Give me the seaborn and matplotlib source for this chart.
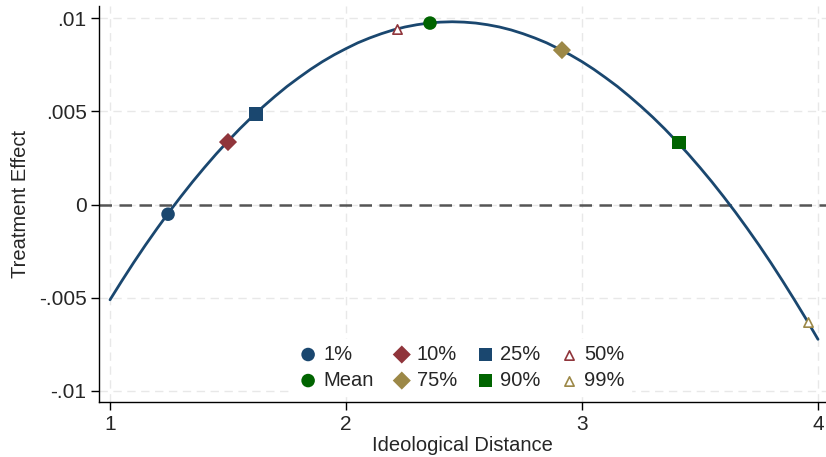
import matplotlib
matplotlib.use("Agg")
import matplotlib.pyplot as plt
import seaborn as sns
import pandas as pd

# Curve
curve_x = [1.00, 1.05, 1.10, 1.15, 1.20, 1.25, 1.30, 1.35, 1.40, 1.45, 1.50, 1.55, 1.60,
           1.65, 1.70, 1.75, 1.80, 1.85, 1.90, 1.95, 2.00, 2.05, 2.10, 2.15, 2.20, 2.25,
           2.30, 2.35, 2.40, 2.45, 2.50, 2.55, 2.60, 2.65, 2.70, 2.75, 2.80, 2.85, 2.90,
           2.95, 3.00, 3.05, 3.10, 3.15, 3.20, 3.25, 3.30, 3.35, 3.40, 3.45, 3.50, 3.55,
           3.60, 3.65, 3.70, 3.75, 3.80, 3.85, 3.90, 3.95, 4.00]
curve_y = [-0.00511, -0.00410, -0.00312, -0.00218, -0.00128, -0.00041, 0.00042, 0.00122,
           0.00198, 0.00271, 0.00340, 0.00406, 0.00468, 0.00526, 0.00581, 0.00633,
           0.00680, 0.00725, 0.00766, 0.00803, 0.00836, 0.00867, 0.00893, 0.00916,
           0.00936, 0.00952, 0.00964, 0.00973, 0.00978, 0.00980, 0.00978, 0.00973,
           0.00964, 0.00952, 0.00936, 0.00916, 0.00893, 0.00867, 0.00836, 0.00803,
           0.00766, 0.00725, 0.00680, 0.00633, 0.00581, 0.00526, 0.00468, 0.00406,
           0.00340, 0.00271, 0.00198, 0.00122, 0.00042, -0.00041, -0.00128, -0.00218,
           -0.00312, -0.00410, -0.00511, -0.00615, -0.00723]

# Marked points
point_labels = ["1%", "Mean", "10%", "75%", "25%", "90%", "50%", "99%"]
point_x = [1.246, 2.356, 1.50, 2.915, 1.619, 3.411, 2.216, 3.958]
point_y = [-0.00052, 0.00973, 0.00335, 0.00828, 0.00486, 0.00333, 0.00940, -0.00632]

y_ticks = [-0.01, -0.005, 0, 0.005, 0.01]
y_tick_labels = ["-.01", "-.005", "0", ".005", ".01"]
x_ticks = [1, 2, 3, 4]
x_tick_labels = ["1", "2", "3", "4"]

sns.set_style("white")
plt.rcParams['font.family'] = ['Liberation Sans', 'DejaVu Sans']

fig = plt.figure(figsize=(8.26, 4.57), dpi=100)
ax = fig.add_axes([99/826, 1 - 402/457, 1 - 99/826, (402 - 6)/457])

navy = "#1a476f"
maroon = "#90353b"
green = "#006400"
khaki = "#9c8847"

styles = {
    "1%":   dict(marker="o", color=navy, s=95, hollow=False),
    "Mean": dict(marker="o", color=green, s=95, hollow=False),
    "10%":  dict(marker="D", color=maroon, s=85, hollow=False),
    "75%":  dict(marker="D", color=khaki, s=85, hollow=False),
    "25%":  dict(marker="s", color=navy, s=95, hollow=False),
    "90%":  dict(marker="s", color=green, s=95, hollow=False),
    "50%":  dict(marker="^", color=maroon, s=45, hollow=True),
    "99%":  dict(marker="^", color=khaki, s=45, hollow=True),
}

# grid
for yt in y_ticks:
    ax.axhline(yt, color="#e8e8e8", lw=1.0, ls=(0, (6, 4)), zorder=0)
for xt in x_ticks:
    ax.axvline(xt, color="#e8e8e8", lw=1.0, ls=(0, (6, 4)), zorder=0)

ax.axhline(0, color="#555555", lw=1.8, ls=(0, (5, 3)), zorder=1)

df_curve = pd.DataFrame({"x": curve_x, "y": curve_y})
sns.lineplot(data=df_curve, x="x", y="y", color=navy, lw=2.0, ax=ax, zorder=2)

handles = []
for lab, px, py in zip(point_labels, point_x, point_y):
    st = styles[lab]
    if st["hollow"]:
        h = ax.scatter([px], [py], marker=st["marker"], s=st["s"], facecolors="white",
                       edgecolors=st["color"], linewidths=1.2, zorder=3, label=lab)
    else:
        h = ax.scatter([px], [py], marker=st["marker"], s=st["s"], color=st["color"],
                       edgecolors="none", zorder=3, label=lab)
    handles.append(h)

ax.set_xlim(1 - 11/236, 4 + 8/236)
ax.set_ylim(-0.01 - 11/93*0.005, 0.01 + 12/93*0.005)
ax.set_yticks(y_ticks)
ax.set_yticklabels(y_tick_labels)
ax.set_xticks(x_ticks)
ax.set_xticklabels(x_tick_labels)
ax.tick_params(axis="both", direction="out", length=6, width=1, color="black",
               labelsize=15, pad=3, left=True, bottom=True)
for s in ["top", "right"]:
    ax.spines[s].set_visible(False)
for s in ["left", "bottom"]:
    ax.spines[s].set_color("black")
    ax.spines[s].set_linewidth(1.0)

ax.set_xlabel("Ideological Distance", fontsize=14.5, labelpad=2)
ax.set_ylabel("Treatment Effect", fontsize=14.5, labelpad=6)

leg = ax.legend(handles=handles, labels=point_labels, ncol=4, loc="lower center",
                bbox_to_anchor=(0.497, -0.01), frameon=True, fontsize=14.5,
                handletextpad=0.15, columnspacing=0.8, labelspacing=0.35,
                handlelength=1.2, borderpad=0.3, scatterpoints=1)
leg.get_frame().set_facecolor("white")
leg.get_frame().set_edgecolor("white")
leg.get_frame().set_alpha(1)

fig.savefig("out.png", dpi=100)
